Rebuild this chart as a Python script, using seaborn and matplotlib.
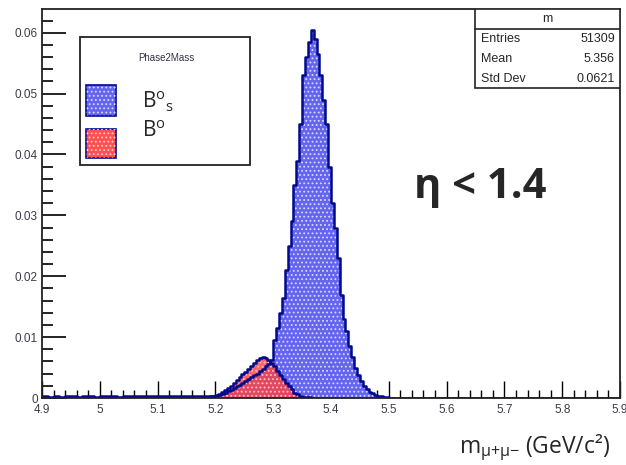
import numpy as np
import pandas as pd
import matplotlib
matplotlib.use("Agg")
import matplotlib.pyplot as plt
from matplotlib.patches import Rectangle
import seaborn as sns

# ---------------- data ----------------
# B0s : low tail 4.90-5.20 in 0.01 bins
bs_low = [0.0003, 0.0002, 0.0003, 0.0002, 0.0003, 0.0003, 0.0002, 0.0003, 0.0003, 0.0002,
          0.0003, 0.0003, 0.0003, 0.0002, 0.0003, 0.0003, 0.0003, 0.0004, 0.0003, 0.0003,
          0.0003, 0.0004, 0.0003, 0.0004, 0.0003, 0.0004, 0.0004, 0.0003, 0.0004, 0.0004]
# B0s : core 5.20-5.50 in 0.005 bins
bs_core = [0.0004, 0.0005, 0.0007, 0.0009, 0.0011, 0.0013, 0.0016, 0.0019, 0.0022, 0.0025,
           0.0028, 0.0031, 0.0034, 0.0037, 0.0040, 0.0044, 0.0048, 0.0052, 0.0056, 0.0062,
           0.0095, 0.0115, 0.0140, 0.0165, 0.0210, 0.0250, 0.0290, 0.0350, 0.0390, 0.0450,
           0.0530, 0.0560, 0.0585, 0.0605, 0.0590, 0.0565, 0.0530, 0.0490, 0.0450, 0.0380,
           0.0320, 0.0280, 0.0230, 0.0170, 0.0130, 0.0110, 0.0085, 0.0068, 0.0050, 0.0038,
           0.0028, 0.0020, 0.0015, 0.0010, 0.0008, 0.0005, 0.0004, 0.0003, 0.0002, 0.0001]
# B0 : 5.18-5.37 in 0.005 bins
b0_vals = [0.0001, 0.0002, 0.0003, 0.0004, 0.0005, 0.0007, 0.0010, 0.0013, 0.0016, 0.0020,
           0.0024, 0.0029, 0.0034, 0.0039, 0.0043, 0.0048, 0.0052, 0.0057, 0.0062, 0.0066,
           0.0067, 0.0066, 0.0063, 0.0058, 0.0052, 0.0045, 0.0038, 0.0031, 0.0025, 0.0019,
           0.0014, 0.0009, 0.0006, 0.0004, 0.0002, 0.0001, 0.0001, 0.0000]

x_ticks = [4.9, 5.0, 5.1, 5.2, 5.3, 5.4, 5.5, 5.6, 5.7, 5.8, 5.9]
x_tick_labels = ["4.9", "5", "5.1", "5.2", "5.3", "5.4", "5.5", "5.6", "5.7", "5.8", "5.9"]
y_ticks = [0, 0.01, 0.02, 0.03, 0.04, 0.05, 0.06]
y_tick_labels = ["0", "0.01", "0.02", "0.03", "0.04", "0.05", "0.06"]

stats_names = ["Entries", "Mean", "Std Dev"]
stats_values = ["51309", "5.356", "0.0621"]

# ---------------- build binned tables ----------------
def edges_from(start, width, n):
    return [round(start + i * width, 4) for i in range(n + 1)]

bs_edges = edges_from(4.90, 0.01, len(bs_low))[:-1] + edges_from(5.20, 0.005, len(bs_core))[:-1] + [5.50, 5.90]
bs_vals = bs_low + bs_core + [0.0]
bs_centers = [(bs_edges[i] + bs_edges[i + 1]) / 2 for i in range(len(bs_vals))]
bs_df = pd.DataFrame({"m": bs_centers, "w": bs_vals})

b0_edges = edges_from(5.18, 0.005, len(b0_vals))
b0_centers = [(b0_edges[i] + b0_edges[i + 1]) / 2 for i in range(len(b0_vals))]
b0_df = pd.DataFrame({"m": b0_centers, "w": b0_vals})

# ---------------- figure ----------------
sns.set_theme(style="white")
plt.rcParams["font.family"] = ["Liberation Sans", "DejaVu Sans"]
plt.rcParams["hatch.linewidth"] = 0.8

fig = plt.figure(figsize=(6.26, 4.65), dpi=100)
ax = fig.add_axes([42 / 626, 1 - 398 / 465, 578 / 626, 389 / 465])

blue_face = "#6464ee"
navy = "#000a8c"
red_face = "#ff4040"
dot_col = (0.85, 0.85, 1.0)

# Bs fill with white dot hatch
sns.histplot(data=bs_df, x="m", weights="w", bins=bs_edges, element="step", fill=True,
             stat="count", color=blue_face, alpha=1, linewidth=0, ax=ax)
for c in ax.collections:
    c.set_facecolor(blue_face)
    c.set_edgecolor(dot_col)
    c.set_hatch("....")
    c.set_linewidth(0)
n_before = len(ax.collections)
# B0 fill
sns.histplot(data=b0_df, x="m", weights="w", bins=b0_edges, element="step", fill=True,
             stat="count", color=red_face, alpha=0.8, linewidth=0, ax=ax)
for c in ax.collections[n_before:]:
    c.set_facecolor((1.0, 0.25, 0.25, 0.8))
    c.set_edgecolor((1.0, 0.78, 0.78, 0.9))
    c.set_hatch("....")
    c.set_linewidth(0)
# outlines
sns.histplot(data=bs_df, x="m", weights="w", bins=bs_edges, element="step", fill=False,
             stat="count", color=navy, linewidth=1.8, ax=ax)
sns.histplot(data=b0_df, x="m", weights="w", bins=b0_edges, element="step", fill=False,
             stat="count", color=navy, linewidth=1.8, ax=ax)

ax.set_xlim(4.9, 5.9)
ax.set_ylim(0, 0.0639)
ax.set_xlabel("")
ax.set_ylabel("")

tick_color = "#3d3a48"
ax.set_xticks(x_ticks)
ax.set_xticklabels(x_tick_labels, fontsize=8.5, color=tick_color)
ax.set_yticks(y_ticks)
ax.set_yticklabels(y_tick_labels, fontsize=8.5, color=tick_color)
ax.set_xticks(np.arange(4.9, 5.9001, 0.02), minor=True)
ax.set_yticks(np.arange(0, 0.0639, 0.002), minor=True)
ax.tick_params(axis="x", which="major", direction="in", length=12, width=1, color="black", pad=4)
ax.tick_params(axis="x", which="minor", direction="in", length=6, width=1, color="black")
ax.tick_params(axis="y", which="major", direction="in", length=17, width=1.2, color="black", pad=3)
ax.tick_params(axis="y", which="minor", direction="in", length=8, width=1.2, color="black")
ax.tick_params(bottom=True, left=True, top=False, right=False, which="both")
for s in ax.spines.values():
    s.set_color("#222222")
    s.set_linewidth(1.3)
ax.grid(False)

# ---------------- legend box ----------------
tr = ax.transAxes
ax.add_patch(Rectangle((0.066, 0.599), 0.294, 0.329, transform=tr, fill=True,
                       facecolor="white", edgecolor="#222222", linewidth=1.3, zorder=5))
ax.text(0.2145, 0.874, "Phase2Mass", transform=tr, fontsize=7, ha="center", va="center",
        color="#333344", zorder=6)
ax.add_patch(Rectangle((0.076, 0.725), 0.052, 0.08, transform=tr, facecolor=blue_face,
                       edgecolor=navy, linewidth=1.2, zorder=6))
ax.add_patch(Rectangle((0.076, 0.725), 0.052, 0.08, transform=tr, facecolor="none",
                       edgecolor=dot_col, linewidth=0, zorder=6, hatch="...."))
ax.add_patch(Rectangle((0.076, 0.617), 0.052, 0.074, transform=tr, facecolor="#ff5050",
                       edgecolor=navy, linewidth=1.2, zorder=6))
ax.add_patch(Rectangle((0.076, 0.617), 0.052, 0.074, transform=tr, facecolor="none",
                       edgecolor=(1.0, 0.8, 0.8), linewidth=0, zorder=6, hatch="...."))
ax.text(0.173, 0.762, r"B$^{\mathregular{o}}$$_{\mathregular{s}}$", transform=tr, fontsize=15,
        ha="left", va="center", family=["Open Sans", "DejaVu Sans"], zorder=6)
ax.text(0.173, 0.684, r"B$^{\mathregular{o}}$", transform=tr, fontsize=15,
        ha="left", va="center", family=["Open Sans", "DejaVu Sans"], zorder=6)

# ---------------- stats box ----------------
ax.add_patch(Rectangle((0.749, 0.797), 0.251, 0.203, transform=tr, facecolor="white",
                       edgecolor="#222222", linewidth=1.2, zorder=5))
ax.plot([0.749, 1.0], [0.949, 0.949], transform=tr, color="#222222", linewidth=1.2, zorder=6)
ax.text(0.874, 0.974, "m", transform=tr, fontsize=9, ha="center", va="center", zorder=6)
for i, (nm, val) in enumerate(zip(stats_names, stats_values)):
    yy = 0.922 - i * 0.051
    ax.text(0.760, yy, nm, transform=tr, fontsize=9, ha="left", va="center", zorder=6)
    ax.text(0.991, yy, val, transform=tr, fontsize=9, ha="right", va="center", zorder=6)

# ---------------- annotations ----------------
fig.text(480 / 626, 1 - 198 / 465, "η < 1.4", fontsize=30, fontweight="bold",
         ha="center", va="baseline", family=["Open Sans", "DejaVu Sans"])
fig.text(535 / 626, 1 - 453 / 465, r"m$_{\mathregular{\mu{+}\mu{-}}}$ (GeV/c²)", fontsize=16.5,
         ha="center", va="baseline", family=["Open Sans", "DejaVu Sans"])

fig.savefig("out.png", dpi=100)
